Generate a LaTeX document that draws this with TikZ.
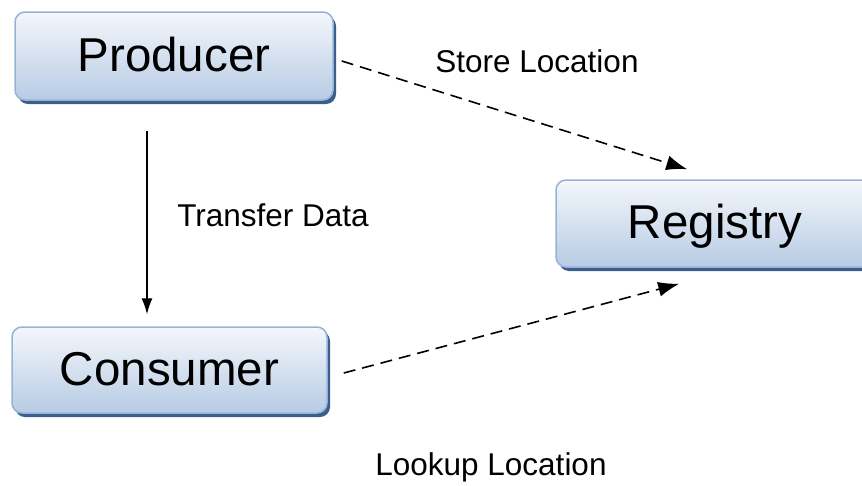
\documentclass[tikz,border=0pt]{standalone}
\usepackage{fontspec}
\setmainfont{Liberation Sans}
\usetikzlibrary{arrows.meta,shadows}

\definecolor{boxedge}{HTML}{95B3D7}
\definecolor{boxtop}{HTML}{F4F7FB}
\definecolor{boxbottom}{HTML}{B7CBE4}
\definecolor{boxshadow}{HTML}{3B5E8A}

\tikzset{
  procbox/.style={
    draw=boxedge, line width=1.5pt, rounded corners=10pt,
    top color=boxtop, bottom color=boxbottom,
    general shadow={fill=boxshadow, shadow xshift=3pt, shadow yshift=-4pt},
    inner sep=0pt, text height=34pt, text depth=4pt,
    font=\fontsize{47.5}{50}\selectfont
  },
  lbl/.style={inner sep=0pt, font=\fontsize{31.5}{33}\selectfont},
  dasharrow/.style={line width=1.6pt, dash pattern=on 12pt off 7pt,
    -{Latex[length=21pt,width=15pt]}},
  solidarrow/.style={line width=1.3pt, -{Latex[length=16pt,width=11pt]}}
}

\begin{document}
\begin{tikzpicture}[x=1pt,y=-1pt]
  \useasboundingbox (0,0) rectangle (862,485);

  % components
  \node[procbox, minimum width=318pt, minimum height=88pt] (prod) at (174,56) {Producer};
  \node[procbox, minimum width=318pt, minimum height=87pt] (reg) at (715,223.5) {Registry};
  \node[procbox, minimum width=315pt, minimum height=86pt] (cons) at (169.5,370) {Consumer};

  % connectors
  \draw[dasharrow] ([xshift=8pt,yshift=-5pt]prod.east) -- ([xshift=132pt,yshift=10pt]reg.north west);
  \draw[solidarrow] ([xshift=-27pt,yshift=-30pt]prod.south) -- ([xshift=-22.5pt,yshift=12pt]cons.north);
  \draw[dasharrow] ([xshift=16pt,yshift=-3pt]cons.east) -- ([xshift=124pt,yshift=-16pt]reg.south west);

  % labels
  \node[lbl] (lstore) at (537,61) {Store Location};
  \node[lbl] (ltrans) at (273,215) {Transfer Data};
  \node[lbl] (llook) at (491,467) {Lookup Location};
\end{tikzpicture}
\end{document}
